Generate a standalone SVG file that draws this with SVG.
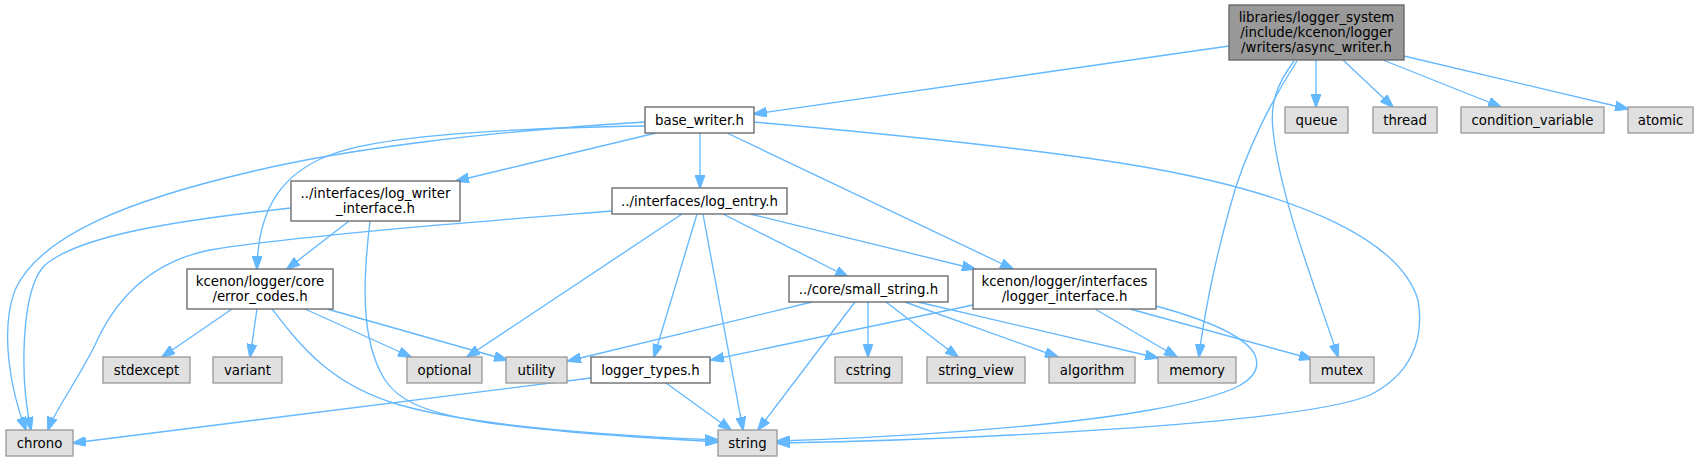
<svg xmlns="http://www.w3.org/2000/svg" width="1701" height="461" viewBox="0 0 1701 461">
<style>
  .n rect { fill: #ffffff; stroke: #666666; stroke-width: 1.33; }
  .g rect { fill: #e0e0e0; stroke: #999999; stroke-width: 1.33; }
  .m rect { fill: #999999; stroke: #666666; stroke-width: 1.33; }
  text { font-family: "DejaVu Sans", "Liberation Sans", sans-serif; font-size: 13.33px; fill: #000000; text-anchor: middle; }
  .e path { fill: none; stroke: #63b8ff; stroke-width: 1.33; marker-end: url(#arr); }
</style>
<defs>
  <marker id="arr" markerUnits="userSpaceOnUse" markerWidth="14" markerHeight="10" viewBox="0 0 14 10" refX="13" refY="5" orient="auto">
    <path d="M0,0 L14,5 L0,10 z" fill="#63b8ff" stroke="#63b8ff" stroke-width="1"/>
  </marker>
</defs>
<rect x="0" y="0" width="1701" height="461" fill="#ffffff"/>
<g id="edges" class="e">
  <path d="M1229,46 L754,114"/>
  <path d="M1316,60 L1316,107"/>
  <path d="M1343,60 L1393,107"/>
  <path d="M1383,60 L1501,107"/>
  <path d="M1404,56 L1628,109"/>
  <path d="M1297,61 C1275,95 1245,150 1230,207 C1215,260 1203,320 1199,357"/>
  <path d="M1294,61 C1276,85 1270,105 1273,130 C1280,200 1320,300 1338,357"/>
  <path d="M700,133 L700,188"/>
  <path d="M656,133 L456,181"/>
  <path d="M645,122 C480,132 340,150 250,172 C130,200 40,235 15,290 C0,330 10,390 26,430"/>
  <path d="M645,126 C520,128 380,135 330,155 C285,172 258,205 257,269"/>
  <path d="M727,133 L1013,269"/>
  <path d="M754,122 C900,135 1050,150 1150,168 C1300,195 1400,240 1418,300 C1425,340 1410,375 1370,395 C1300,425 950,440 777,443"/>
  <path d="M1156,306 C1200,318 1245,335 1255,355 C1265,380 1235,395 1150,410 C1050,428 880,438 777,441"/>
  <path d="M349,221 L287,269"/>
  <path d="M291,208 C180,220 80,235 45,265 C20,290 20,380 31,430"/>
  <path d="M370,221 C363,280 360,340 385,380 C410,418 480,428 718,442"/>
  <path d="M272,309 C300,345 330,385 400,405 C470,425 600,435 718,440"/>
  <path d="M232,309 L162,357"/>
  <path d="M257,309 L250,357"/>
  <path d="M305,309 L411,357"/>
  <path d="M327,309 L507,360"/>
  <path d="M612,211 C500,220 300,235 210,250 C150,262 115,300 95,345 C75,385 55,410 48,430"/>
  <path d="M682,214 L467,357"/>
  <path d="M697,214 L654,357"/>
  <path d="M703,214 L743,430"/>
  <path d="M723,214 L848,277"/>
  <path d="M750,214 L975,269"/>
  <path d="M812,302 L568,361"/>
  <path d="M855,302 L758,430"/>
  <path d="M868,302 L868,357"/>
  <path d="M886,302 L958,357"/>
  <path d="M905,302 L1058,357"/>
  <path d="M918,302 L1158,358"/>
  <path d="M973,305 L711,360"/>
  <path d="M1095,309 L1177,357"/>
  <path d="M1130,309 L1312,359"/>
  <path d="M591,378 L73,443"/>
  <path d="M666,383 L731,430"/>
</g>
<g id="node-async_writer" class="m">
  <rect x="1229" y="5" width="175" height="55"/>
  <text x="1316.5" y="22">libraries/logger_system</text>
  <text x="1316.5" y="37">/include/kcenon/logger</text>
  <text x="1316.5" y="52">/writers/async_writer.h</text>
</g>
<g id="node-base_writer" class="n">
  <rect x="645" y="107" width="109" height="26"/>
  <text x="699.5" y="124.5">base_writer.h</text>
</g>
<g id="node-queue" class="g">
  <rect x="1285" y="107" width="63" height="26"/>
  <text x="1316.5" y="124.5">queue</text>
</g>
<g id="node-thread" class="g">
  <rect x="1373" y="107" width="64" height="26"/>
  <text x="1405" y="124.5">thread</text>
</g>
<g id="node-condition_variable" class="g">
  <rect x="1461" y="107" width="143" height="26"/>
  <text x="1532.5" y="124.5">condition_variable</text>
</g>
<g id="node-atomic" class="g">
  <rect x="1628" y="107" width="65" height="26"/>
  <text x="1660.5" y="124.5">atomic</text>
</g>
<g id="node-log_writer_interface" class="n">
  <rect x="291" y="181" width="169" height="40"/>
  <text x="375.5" y="198">../interfaces/log_writer</text>
  <text x="375.5" y="213">_interface.h</text>
</g>
<g id="node-log_entry" class="n">
  <rect x="612" y="188" width="175" height="26"/>
  <text x="699.5" y="205.5">../interfaces/log_entry.h</text>
</g>
<g id="node-error_codes" class="n">
  <rect x="187" y="269" width="146" height="40"/>
  <text x="260" y="286">kcenon/logger/core</text>
  <text x="260" y="301">/error_codes.h</text>
</g>
<g id="node-small_string" class="n">
  <rect x="789" y="276" width="159" height="26"/>
  <text x="868.5" y="293.5">../core/small_string.h</text>
</g>
<g id="node-logger_interface" class="n">
  <rect x="973" y="269" width="183" height="40"/>
  <text x="1064.5" y="286">kcenon/logger/interfaces</text>
  <text x="1064.5" y="301">/logger_interface.h</text>
</g>
<g id="node-stdexcept" class="g">
  <rect x="103" y="357" width="87" height="26"/>
  <text x="146.5" y="374.5">stdexcept</text>
</g>
<g id="node-variant" class="g">
  <rect x="213" y="357" width="69" height="26"/>
  <text x="247.5" y="374.5">variant</text>
</g>
<g id="node-optional" class="g">
  <rect x="407" y="357" width="75" height="26"/>
  <text x="444.5" y="374.5">optional</text>
</g>
<g id="node-utility" class="g">
  <rect x="506" y="357" width="61" height="26"/>
  <text x="536.5" y="374.5">utility</text>
</g>
<g id="node-logger_types" class="n">
  <rect x="591" y="357" width="119" height="26"/>
  <text x="650.5" y="374.5">logger_types.h</text>
</g>
<g id="node-cstring" class="g">
  <rect x="835" y="357" width="67" height="26"/>
  <text x="868.5" y="374.5">cstring</text>
</g>
<g id="node-string_view" class="g">
  <rect x="927" y="357" width="98" height="26"/>
  <text x="976" y="374.5">string_view</text>
</g>
<g id="node-algorithm" class="g">
  <rect x="1049" y="357" width="86" height="26"/>
  <text x="1092" y="374.5">algorithm</text>
</g>
<g id="node-memory" class="g">
  <rect x="1158" y="357" width="78" height="26"/>
  <text x="1197" y="374.5">memory</text>
</g>
<g id="node-mutex" class="g">
  <rect x="1310" y="357" width="64" height="26"/>
  <text x="1342" y="374.5">mutex</text>
</g>
<g id="node-chrono" class="g">
  <rect x="6" y="430" width="67" height="26"/>
  <text x="39.5" y="447.5">chrono</text>
</g>
<g id="node-string" class="g">
  <rect x="718" y="430" width="59" height="26"/>
  <text x="747.5" y="447.5">string</text>
</g>
</svg>
